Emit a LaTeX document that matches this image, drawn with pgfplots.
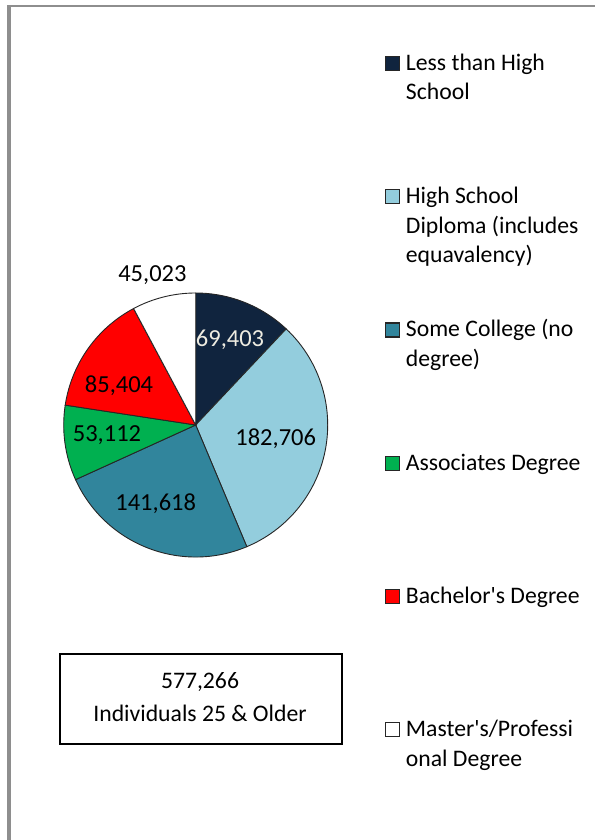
\documentclass[border=0pt]{standalone}
\usepackage{fontspec}
\setmainfont{Carlito}
\usepackage{pgfplots}
\usepackage{pgfplotstable}
\pgfplotsset{compat=1.18}

\definecolor{lesshs}{HTML}{10243E}
\definecolor{hsdip}{HTML}{93CDDD}
\definecolor{somecol}{HTML}{31859C}
\definecolor{assoc}{HTML}{00B050}
\definecolor{bach}{HTML}{FF0000}
\definecolor{mast}{HTML}{FFFFFF}
\definecolor{lbl}{HTML}{EEECE1}
\definecolor{framegray}{HTML}{8E8E8E}

\newcommand\legfont{\fontsize{23.7bp}{29.5bp}\selectfont}
\newcommand\lblfont{\fontsize{24.5bp}{29.5bp}\selectfont}

% persons 25+ by education, label position in axis units (radius = 1)
\pgfplotstableread{
value  col     lx      ly      tcol
69403  lesshs   0.260   0.644  lbl
182706 hsdip    0.606  -0.101  black
141618 somecol -0.303  -0.593  black
53112  assoc   -0.672  -0.076  black
85404  bach    -0.581   0.295  black
45023  mast    -0.328   1.136  black
}\pietable

% slice angles, clockwise from 12 o'clock
\def\total{0}
\pgfplotsforeachungrouped \i in {0,...,5}{%
  \pgfplotstablegetelem{\i}{value}\of\pietable
  \edef\total{\fpeval{\total+\pgfplotsretval}}%
}
\def\cum{0}
\pgfplotsforeachungrouped \i in {0,...,5}{%
  \pgfplotstablegetelem{\i}{value}\of\pietable
  \expandafter\edef\csname sa\i\endcsname{\fpeval{90-360*\cum/\total}}%
  \edef\cum{\fpeval{\cum+\pgfplotsretval}}%
  \expandafter\edef\csname ea\i\endcsname{\fpeval{90-360*\cum/\total}}%
}

\begin{document}
\begin{tikzpicture}
\path[use as bounding box] (0,0) rectangle (595bp,840bp);

\begin{axis}[
    at={(0,0)}, anchor=south west,
    x=132bp, y=132bp,
    xmin=-1.4826, xmax=3.0250,
    ymin=-3.1439, ymax=3.2197,
    hide axis, clip=false,
    legend cell align=left,
    legend image code/.code={%
        \draw[#1, line width=1.3bp, draw=black!85] (0bp,0bp) rectangle (14bp,14bp);
        \path (0bp,22bp) (19.8bp,-110.4bp);},
    legend style={draw=none, fill=none, inner sep=0pt, outer sep=0pt,
        row sep=0pt, font=\legfont,
        nodes={inner sep=0pt, anchor=base west},
        cells={anchor=base west},
        at={(0.6471,0.9430)}, anchor=north west},
    legend entries={
        {\parbox[t]{190bp}{Less than High\\School}},
        {\parbox[t]{190bp}{High School\\Diploma (includes\\equavalency)}},
        {\parbox[t]{190bp}{Some College (no\\degree)}},
        {\parbox[t]{190bp}{Associates Degree}},
        {\parbox[t]{190bp}{Bachelor\textquotesingle s Degree}},
        {\parbox[t]{190bp}{Master\textquotesingle s/Professi\\onal Degree}}},
]
\pgfplotsforeachungrouped \i in {0,...,5}{%
  \pgfplotstablegetelem{\i}{col}\of\pietable \let\scol\pgfplotsretval
  \edef\sx{\fpeval{cosd(\csname sa\i\endcsname)}}%
  \edef\sy{\fpeval{sind(\csname sa\i\endcsname)}}%
  \edef\doslice{\noexpand\addplot[fill=\scol, draw=black!85, line width=0.9bp,
      mark=none] coordinates {(0,0) (\sx,\sy)}
      arc[start angle=\csname sa\i\endcsname, end angle=\csname ea\i\endcsname,
      radius=132bp] -- cycle;}%
  \doslice
}
\pgfplotsforeachungrouped \i in {0,...,5}{%
  \pgfplotstablegetelem{\i}{value}\of\pietable \let\v\pgfplotsretval
  \pgfplotstablegetelem{\i}{lx}\of\pietable \let\lx\pgfplotsretval
  \pgfplotstablegetelem{\i}{ly}\of\pietable \let\ly\pgfplotsretval
  \pgfplotstablegetelem{\i}{tcol}\of\pietable \let\tc\pgfplotsretval
  \edef\dolabel{\noexpand\node[text=\tc, font=\noexpand\lblfont, inner sep=0pt]
      at (axis cs:\lx,\ly) {\noexpand\pgfmathprintnumber[fixed, precision=0,
      assume math mode=true, 1000 sep={,}]{\v}};}%
  \dolabel
}
\end{axis}

% page frame
\draw[framegray, line width=2.2bp] (7bp,834bp) -- (595bp,834bp);
\draw[framegray, line width=4.5bp] (9.2bp,0bp) -- (9.2bp,835bp);

% total box
\draw[black, line width=1.6bp] (60bp,96bp) rectangle (342bp,186bp);
\node[font=\legfont, anchor=base] at (200bp,151bp) {577,266};
\node[font=\legfont, anchor=base] at (200bp,118.3bp) {Individuals 25 \& Older};
\end{tikzpicture}
\end{document}
